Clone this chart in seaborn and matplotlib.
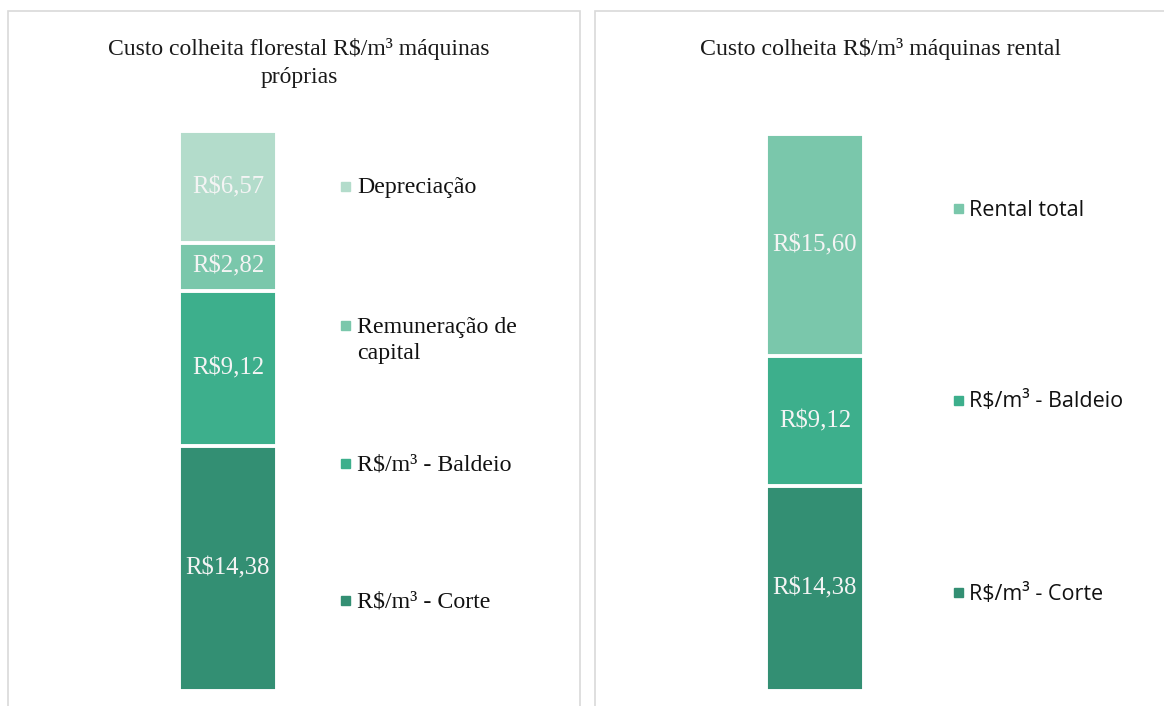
import numpy as np
import seaborn as sns
import matplotlib.pyplot as plt
from matplotlib.patches import Rectangle

# Data
left_title = "Custo colheita florestal R\\$/m³ máquinas\npróprias"
left_categories = ["R\\$/m³ - Corte", "R\\$/m³ - Baldeio", "Remuneração de\ncapital", "Depreciação"]
left_values = [14.38, 9.12, 2.82, 6.57]
left_colors = ["#338f73", "#3daf8c", "#7ac7ab", "#b3dccb"]

right_title = "Custo colheita R\\$/m³ máquinas rental"
right_categories = ["R\\$/m³ - Corte", "R\\$/m³ - Baldeio", "Rental total"]
right_values = [14.38, 9.12, 15.60]
right_colors = ["#338f73", "#3daf8c", "#7ac7ab"]

sns.set_style("white")
serif = "Liberation Serif"
sans = "Open Sans"

W, H = 1164, 706
fig = plt.figure(figsize=(W / 100, H / 100), dpi=100)


def fx(px):
    return px / W


def fy(py):
    return 1 - py / H


# panel frames
for x0, x1 in [(8, 580), (595, 1175)]:
    fig.patches.append(Rectangle((fx(x0), fy(720)), fx(x1 - x0), (720 - 11) / H,
                                 transform=fig.transFigure, fill=False,
                                 edgecolor="#d9d9d9", linewidth=1.2))


def stacked(ax_box, values, colors):
    left, top, right, bottom = ax_box
    ax = fig.add_axes([fx(left), fy(bottom), fx(right - left), (bottom - top) / H])
    tops = np.cumsum(values)
    # draw cumulative bars from tallest to shortest so each segment shows
    for i in range(len(values) - 1, -1, -1):
        sns.barplot(x=["a"], y=[tops[i]], color=colors[i], saturation=1,
                    edgecolor="white", linewidth=2.8, width=0.8, ax=ax)
    for i, v in enumerate(values):
        base = tops[i] - v
        ax.text(0, base + v / 2, "R\\$" + f"{v:.2f}".replace(".", ","),
                ha="center", va="center", color="#f4f4f4", fontsize=17.8, family=serif)
    ax.set_xlim(-0.4, 0.4)
    ax.set_ylim(0, tops[-1])
    ax.axis("off")
    return ax


stacked((179, 131, 277, 691), left_values, left_colors)
stacked((766, 134, 864, 691), right_values, right_colors)

fig.text(fx(299), fy(63), left_title, ha="center", va="center", fontsize=17,
         family=serif, color="#1a1a1a", linespacing=1.42)
fig.text(fx(881), fy(49), right_title, ha="center", va="center", fontsize=17.2,
         family=serif, color="#1a1a1a")


def legend(entries, colors, mx, tx, ys, family, size):
    for label, c, y in zip(entries, colors, ys):
        fig.patches.append(Rectangle((fx(mx - 4.5), fy(y + 4.5)), fx(9), 9 / H,
                                     transform=fig.transFigure, color=c))
        for j, line in enumerate(label.split("\n")):
            fig.text(fx(tx), fy(y + 2 + j * 27), line, ha="left", va="center",
                     fontsize=size, family=family, color="#111111")


legend(left_categories[::-1], left_colors[::-1], 345, 357, [186, 325, 463, 600], serif, 17.2)
legend(right_categories[::-1], right_colors[::-1], 958, 969, [208, 400, 592], sans, 15.5)

fig.savefig("out.png", dpi=100)
